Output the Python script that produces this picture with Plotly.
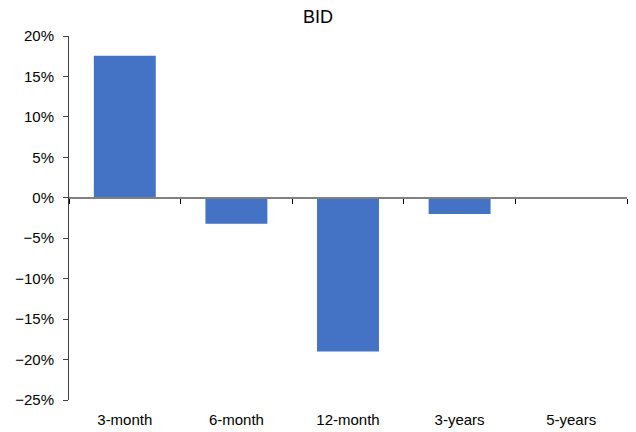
import plotly.graph_objects as go

# Returns of BID over several horizons
periods = ["3-month", "6-month", "12-month", "3-years", "5-years"]
returns = [0.1755, -0.032, -0.190, -0.020, 0.0]

y_ticks = [0.20, 0.15, 0.10, 0.05, 0.0, -0.05, -0.10, -0.15, -0.20, -0.25]
y_min, y_max = -0.25, 0.20

FONT = "Arial, Liberation Sans, sans-serif"
BAR = "#4472C4"

fig = go.Figure()
fig.add_trace(go.Bar(x=periods, y=returns, marker=dict(color=BAR, line=dict(width=0)),
                     hoverinfo="skip"))

# invisible trace so the overlay axis (category boundary ticks on the zero line) is drawn
fig.add_trace(go.Scatter(x=[-0.5, 4.5], y=[0, 0], xaxis="x2", mode="lines",
                         line=dict(width=0), showlegend=False, hoverinfo="skip"))

zero_frac = (0 - y_min) / (y_max - y_min)

fig.update_layout(
    width=636, height=432,
    margin=dict(l=69, r=9, t=36, b=32),
    paper_bgcolor="white", plot_bgcolor="white",
    showlegend=False,
    bargap=0.445,
    title=dict(text="BID", x=0.5, xanchor="center", y=0.962, yanchor="middle",
               font=dict(family=FONT, size=18, color="#000000")),
    font=dict(family=FONT, size=15, color="#000000"),
    xaxis=dict(type="category", range=[-0.5, 4.5], showline=False, showgrid=False,
               zeroline=False, ticks="", tickfont=dict(size=15), ticklabelstandoff=9,
               automargin=False),
    xaxis2=dict(overlaying="x", anchor="free", position=zero_frac, range=[-0.5, 4.5],
                tickvals=[-0.5, 0.5, 1.5, 2.5, 3.5, 4.5], ticks="outside", ticklen=5,
                tickcolor="#000000", tickwidth=1, showticklabels=False,
                showline=True, linecolor="#808080", linewidth=1.5,
                showgrid=False, zeroline=False, automargin=False),
    yaxis=dict(range=[y_min, y_max], tickvals=y_ticks, tickformat=".0%",
               showgrid=False, zeroline=False, showline=True, linecolor="#404040",
               linewidth=1, ticks="outside", ticklen=5, tickcolor="#404040",
               tickfont=dict(size=15), ticklabelstandoff=6, automargin=False),
)

fig.write_html("out.html")
